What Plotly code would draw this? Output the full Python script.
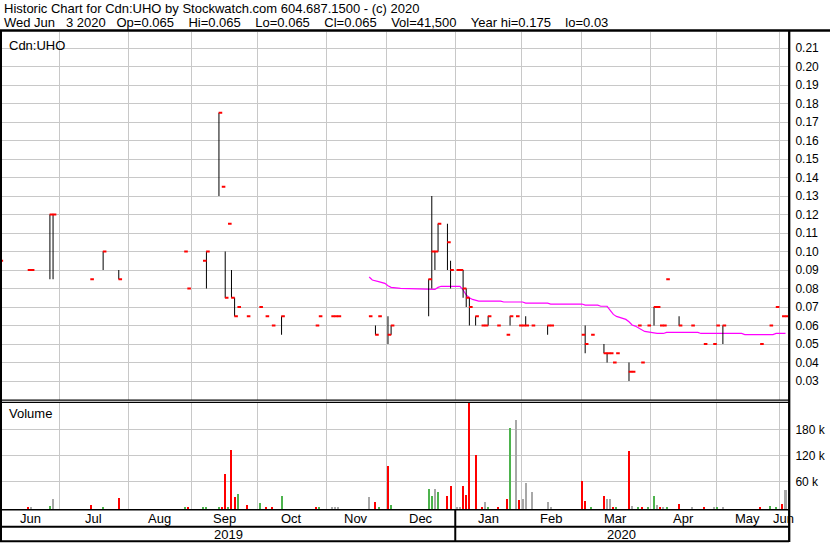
import plotly.graph_objects as go

# ---------------- data ----------------
# trading-day index: 0 = Mon 3 Jun 2019 ... 252 = Wed 3 Jun 2020
day = [1, 10, 11, 17, 18, 30, 34, 39, 60, 61, 66, 67, 71, 72, 73, 74, 75, 76, 77, 80,
       84, 86, 88, 91, 102, 103, 107, 108, 109, 119, 121, 122, 125, 126, 138, 139, 140, 141, 144, 145,
       147, 148, 149, 150, 151, 153, 155, 156, 157, 160, 163, 164, 166, 167, 168, 169, 171, 176, 177, 187,
       188, 190, 194, 195, 196, 197, 198, 202, 203, 205, 206, 208, 210, 211, 212, 213, 214, 218, 222, 226,
       229, 230, 232, 244, 247, 249, 251, 252]
low = [0.095, 0.09, 0.09, 0.085, 0.085, 0.085, 0.09, 0.085, 0.10, 0.08, 0.095, 0.08, 0.13, 0.135, 0.075, 0.115, 0.075, 0.065, 0.07, 0.065,
       0.07, 0.065, 0.06, 0.055, 0.06, 0.065, 0.065, 0.065, 0.065, 0.065, 0.055, 0.065, 0.05, 0.055, 0.065, 0.08, 0.09, 0.10, 0.09, 0.08,
       0.09, 0.09, 0.075, 0.07, 0.06, 0.06, 0.06, 0.06, 0.06, 0.06, 0.055, 0.06, 0.065, 0.06, 0.06, 0.06, 0.06, 0.055, 0.06, 0.055,
       0.045, 0.055, 0.045, 0.04, 0.045, 0.04, 0.045, 0.03, 0.035, 0.06, 0.04, 0.06, 0.06, 0.07, 0.06, 0.06, 0.085, 0.06, 0.06, 0.05,
       0.05, 0.06, 0.05, 0.05, 0.06, 0.07, 0.065, 0.065]
high = [0.095, 0.09, 0.09, 0.12, 0.12, 0.085, 0.10, 0.09, 0.10, 0.08, 0.095, 0.10, 0.175, 0.135, 0.10, 0.115, 0.09, 0.075, 0.07, 0.065,
        0.07, 0.065, 0.06, 0.065, 0.06, 0.065, 0.065, 0.065, 0.065, 0.065, 0.06, 0.065, 0.065, 0.06, 0.085, 0.13, 0.10, 0.115, 0.115, 0.095,
        0.09, 0.09, 0.09, 0.08, 0.075, 0.065, 0.06, 0.06, 0.065, 0.06, 0.055, 0.065, 0.065, 0.06, 0.06, 0.065, 0.06, 0.06, 0.06, 0.055,
        0.06, 0.055, 0.05, 0.045, 0.045, 0.04, 0.045, 0.04, 0.035, 0.06, 0.04, 0.06, 0.07, 0.07, 0.06, 0.06, 0.085, 0.065, 0.06, 0.05,
        0.05, 0.06, 0.06, 0.05, 0.06, 0.07, 0.065, 0.065]
close = [0.095, 0.09, 0.09, 0.12, 0.12, 0.085, 0.10, 0.085, 0.10, 0.08, 0.095, 0.10, 0.175, 0.135, 0.075, 0.115, 0.075, 0.065, 0.07, 0.065,
         0.07, 0.065, 0.06, 0.065, 0.06, 0.065, 0.065, 0.065, 0.065, 0.065, 0.055, 0.065, 0.055, 0.06, 0.085, 0.10, 0.10, 0.115, 0.105, 0.09,
         0.09, 0.09, 0.08, 0.075, 0.07, 0.065, 0.06, 0.06, 0.065, 0.06, 0.055, 0.065, 0.065, 0.06, 0.06, 0.06, 0.06, 0.06, 0.06, 0.055,
         0.05, 0.055, 0.045, 0.045, 0.045, 0.04, 0.045, 0.035, 0.035, 0.06, 0.04, 0.06, 0.07, 0.07, 0.06, 0.06, 0.085, 0.06, 0.06, 0.05,
         0.05, 0.06, 0.06, 0.05, 0.06, 0.07, 0.065, 0.065]
volume = [700, 2000, 2000, 4200, 20300, 6500, 1800, 22600, 1800, 1800, 700, 700, 1800, 400, 78000, 700, 133400, 25000, 31800, 6500,
          11000, 700, 1800, 27000, 700, 400, 1800, 400, 700, 25000, 13400, 700, 96500, 6500, 43400, 27000, 43400, 36500, 27000, 50300,
          700, 400, 50300, 29500, 260000, 121800, 1800, 13400, 1800, 400, 20300, 184000, 202600, 18000, 20300, 57200, 36500, 13400, 400, 61800,
          15700, 400, 27000, 20300, 20300, 700, 1800, 131000, 4200, 400, 700, 400, 27000, 6500, 400, 700, 700, 8800, 400, 700,
          700, 400, 700, 400, 4200, 400, 8800, 41500]
# u = closed up, d = closed down, n = unchanged
vol_dir = ['n', 'd', 'n', 'u', 'n', 'd', 'u', 'd', 'u', 'd', 'u', 'u', 'u', 'd', 'd', 'u', 'd', 'd', 'u', 'd',
           'u', 'd', 'd', 'u', 'd', 'u', 'n', 'n', 'n', 'n', 'd', 'u', 'd', 'u', 'u', 'u', 'n', 'u', 'd', 'd',
           'n', 'n', 'd', 'd', 'd', 'd', 'd', 'n', 'u', 'd', 'd', 'u', 'n', 'd', 'n', 'n', 'n', 'n', 'n', 'd',
           'd', 'u', 'd', 'n', 'n', 'd', 'u', 'd', 'n', 'u', 'd', 'u', 'u', 'n', 'd', 'n', 'u', 'd', 'n', 'd',
           'n', 'u', 'n', 'd', 'u', 'u', 'd', 'n']

# moving-average line (magenta)
ma_day = [119, 120, 122, 124, 125, 126, 129, 135, 140, 141, 142, 148, 149, 150, 151, 152, 154, 161, 162, 168,
          169, 176, 177, 187, 188, 192, 193, 195, 196, 197, 198, 200, 201, 202, 203, 204, 205, 206, 207, 209,
          211, 213, 214, 224, 225, 238, 239, 248, 249, 252]
ma_val = [0.0862, 0.0846, 0.0837, 0.0828, 0.0815, 0.0806, 0.0801, 0.0797, 0.0795, 0.0806, 0.0812, 0.0812, 0.0792, 0.0765, 0.0750,
          0.0741, 0.0732, 0.0732, 0.0727, 0.0727, 0.0721, 0.0721, 0.0716, 0.0716, 0.0710, 0.0710, 0.0704, 0.0704, 0.0680, 0.0660,
          0.0649, 0.0641, 0.0633, 0.0620, 0.0603, 0.0597, 0.0586, 0.0575, 0.0568, 0.0563, 0.0557, 0.0557, 0.0563, 0.0563, 0.0557,
          0.0557, 0.0551, 0.0551, 0.0557, 0.0557]

# month boundaries (trading-day index of the month gridlines) and labels
month_start = [20.0, 42.0, 62.2, 83.3, 105.3, 124.5, 146.5, 167.6, 186.8, 208.8, 229.9, 250.0]
month_names = ["Jun", "Jul", "Aug", "Sep", "Oct", "Nov", "Dec", "Jan", "Feb", "Mar", "Apr", "May", "Jun"]
year_names = ["2019", "2020"]

price_ticks = [0.03, 0.04, 0.05, 0.06, 0.07, 0.08, 0.09, 0.10, 0.11, 0.12, 0.13, 0.14, 0.15, 0.16, 0.17,
               0.18, 0.19, 0.20, 0.21]
vol_ticks = [60000, 120000, 180000]
vol_tick_text = ["60 k", "120 k", "180 k"]

GAP3 = "\u00a0\u00a0 "
GAP4 = "\u00a0\u00a0\u00a0 "
title_1 = "Historic Chart for Cdn:UHO by Stockwatch.com 604.687.1500 - (c) 2020"
title_2 = ("Wed Jun" + GAP3 + "3 2020" + GAP3 +
           GAP4.join(["Op=0.065", "Hi=0.065", "Lo=0.065", "Cl=0.065", "Vol=41,500", "Year hi=0.175", "lo=0.03"]))

# ---------------- geometry / style ----------------
W, H = 830, 543
L, R, T, B = 2, 788, 32, 509
PRICE_BOTTOM, VOL_TOP = 400, 402
X_RANGE = [1.69, 252.8]
PRICE_RANGE = [0.01973, 0.21865]
VOL_RANGE = [-3462, 243462]
GRID = "#C8C8C8"
FONT = "Liberation Sans, Arial, sans-serif"
COLORS = {"u": "#4DB34D", "d": "#FF0000", "n": "#A8A8A8"}


def xp(px):
    return (px - L) / (R - L)


def yp(py):
    return (B - py) / (B - T)


fig = go.Figure()

# moving average
fig.add_trace(go.Scatter(x=ma_day, y=ma_val, mode="lines", line=dict(color="#FF00FF", width=1.2),
                         xaxis="x", yaxis="y", hoverinfo="skip"))

# high-low ranges
hl_x, hl_y = [], []
for d, lo, hi in zip(day, low, high):
    if hi > lo:
        hl_x += [d, d, None]
        hl_y += [lo, hi, None]
fig.add_trace(go.Scatter(x=hl_x, y=hl_y, mode="lines", line=dict(color="black", width=1),
                         xaxis="x", yaxis="y", hoverinfo="skip"))

# close ticks
ck_x, ck_y = [], []
for d, c in zip(day, close):
    ck_x += [d - 0.1, d + 1.05, None]
    ck_y += [c, c, None]
fig.add_trace(go.Scatter(x=ck_x, y=ck_y, mode="lines", line=dict(color="#FF0000", width=2),
                         xaxis="x", yaxis="y", hoverinfo="skip"))

# volume bars (drawn from the bottom of the panel up to each volume value)
fig.add_trace(go.Bar(x=day, y=[v - VOL_RANGE[0] for v in volume], base=VOL_RANGE[0], width=0.64,
                     marker=dict(color=[COLORS[k] for k in vol_dir], line=dict(width=0)),
                     xaxis="x2", yaxis="y2", hoverinfo="skip"))

xaxis_common = dict(range=X_RANGE, tickmode="array", tickvals=month_start, showticklabels=False,
                    ticks="", showgrid=True, gridcolor=GRID, gridwidth=1, zeroline=False,
                    showline=False, fixedrange=True)
yaxis_common = dict(side="right", ticks="outside", ticklen=4, tickcolor="rgba(0,0,0,0)",
                    showgrid=True, gridcolor=GRID, gridwidth=1, zeroline=False, showline=False,
                    tickfont=dict(family=FONT, size=12, color="black"), fixedrange=True)

fig.update_layout(
    width=W, height=H,
    margin=dict(l=L, r=W - R, t=T, b=H - B, pad=0, autoexpand=False),
    paper_bgcolor="white", plot_bgcolor="white",
    showlegend=False, bargap=0,
    font=dict(family=FONT, size=13, color="black"),
    xaxis=dict(domain=[0, 1], anchor="y", **xaxis_common),
    xaxis2=dict(domain=[0, 1], anchor="y2", matches="x", **xaxis_common),
    yaxis=dict(domain=[yp(PRICE_BOTTOM), 1], anchor="x", range=PRICE_RANGE, tickmode="array",
               tickvals=price_ticks, ticktext=[f"{v:.2f}" for v in price_ticks], **yaxis_common),
    yaxis2=dict(domain=[0, yp(VOL_TOP)], anchor="x2", range=VOL_RANGE, tickmode="array",
                tickvals=vol_ticks, ticktext=vol_tick_text, **yaxis_common),
)

ann = []
# header lines
ann.append(dict(text=title_1, x=xp(2), y=yp(9), xref="paper", yref="paper", xanchor="left",
                yanchor="middle", showarrow=False, font=dict(size=13)))
ann.append(dict(text=title_2, x=xp(2), y=yp(22.5), xref="paper", yref="paper", xanchor="left",
                yanchor="middle", showarrow=False, font=dict(size=13)))
ann.append(dict(text="Cdn:UHO", x=xp(7), y=yp(45), xref="paper", yref="paper", xanchor="left",
                yanchor="middle", showarrow=False, font=dict(size=13)))
ann.append(dict(text="Volume", x=xp(7), y=yp(413), xref="paper", yref="paper", xanchor="left",
                yanchor="middle", showarrow=False, font=dict(size=13)))
# month labels, centred between month gridlines
edges = [X_RANGE[0]] + month_start + [X_RANGE[1]]
for i, name in enumerate(month_names):
    ann.append(dict(text=name, x=(edges[i] + edges[i + 1]) / 2, y=yp(518.5), xref="x2", yref="paper",
                    xanchor="center", yanchor="middle", showarrow=False, font=dict(size=13)))
# year labels
jan = month_start[6]
for name, (a, b) in zip(year_names, [(X_RANGE[0], jan), (jan, X_RANGE[1])]):
    ann.append(dict(text=name, x=(a + b) / 2, y=yp(534.5), xref="x2", yref="paper",
                    xanchor="center", yanchor="middle", showarrow=False, font=dict(size=13)))
fig.update_layout(annotations=ann)


def hline(py, x0, x1, w):
    return dict(type="line", xref="paper", yref="paper", x0=xp(x0), x1=xp(x1), y0=yp(py), y1=yp(py),
                line=dict(color="black", width=w), layer="above")


def vline(px, y0, y1, w):
    return dict(type="line", xref="paper", yref="paper", x0=xp(px), x1=xp(px), y0=yp(y0), y1=yp(y1),
                line=dict(color="black", width=w), layer="above")


shapes = [
    hline(30.5, 0, 830, 2.3),
    vline(1, 30, 542, 2),
    vline(789.2, 30, 542, 2.3),
    hline(400.2, 0, 789, 1.2),
    hline(402.4, 0, 789, 1.2),
    hline(509.7, 0, 789, 1.6),
    hline(526.8, 0, 789, 2),
    hline(541.3, 0, 789, 2),
]
# year separator at the January boundary
jan_px = L + (jan - X_RANGE[0]) / (X_RANGE[1] - X_RANGE[0]) * (R - L)
shapes.append(vline(jan_px, 509, 542, 2))
fig.update_layout(shapes=shapes)

fig.write_html("out.html", config={"displayModeBar": False},
               post_script="document.body.style.margin='0';document.body.style.overflow='hidden';")
